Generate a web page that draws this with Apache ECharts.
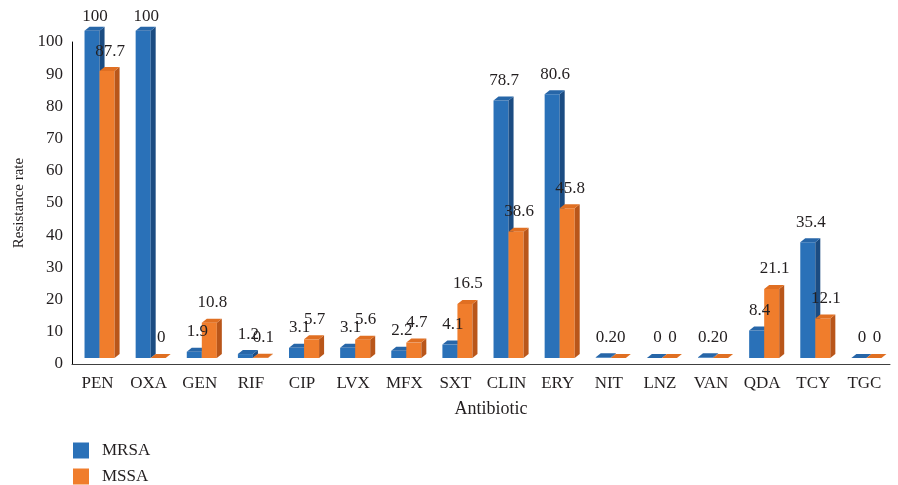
<!DOCTYPE html>
<html>
<head>
<meta charset="utf-8">
<script src="https://cdn.jsdelivr.net/npm/echarts@6/dist/echarts.min.js"></script>
<style>
  html, body { margin: 0; padding: 0; background: #fff; }
  #chart { width: 898px; height: 485px; }
</style>
</head>
<body>
<div id="chart"></div>
<script>
// Antibiotic resistance rates (%) for MRSA and MSSA isolates
const antibiotics = ['PEN', 'OXA', 'GEN', 'RIF', 'CIP', 'LVX', 'MFX', 'SXT', 'CLIN', 'ERY', 'NIT', 'LNZ', 'VAN', 'QDA', 'TCY', 'TGC'];
const mrsa = [100, 100, 1.9, 1.2, 3.1, 3.1, 2.2, 4.1, 78.7, 80.6, 0.2, 0, 0.2, 8.4, 35.4, 0];
const mssa = [87.7, 0, 10.8, 0.1, 5.7, 5.6, 4.7, 16.5, 38.6, 45.8, 0, 0, 0, 21.1, 12.1, 0];
const yTicks = [0, 10, 20, 30, 40, 50, 60, 70, 80, 90, 100];

const FONT = '"Liberation Serif", "DejaVu Serif", serif';
const TEXT = '#231f20';

const palette = [
  { front: '#2a71b8', top: '#2766a8', side: '#1b4c82' },
  { front: '#f07d2c', top: '#e06f22', side: '#b9561a' }
];

// geometry of the pseudo-3D columns
function barGeom(params, api, si) {
  const base = api.coord([api.value(0), 0]);
  const band = api.size([1, 0])[0];
  const bw = band * 0.294;
  const dx = 5, dy = 4;
  const floorY = base[1] - 6;
  const h = api.size([0, api.value(1)])[1] * 1.016;
  const x0 = base[0] - band * 0.255 + si * bw;
  return { x0, bw, dx, dy, floorY, h, topY: floorY - h };
}

function barRenderer(si) {
  return function (params, api) {
    const g = barGeom(params, api, si);
    const c = palette[si];
    const { x0, bw, dx, dy, floorY, topY } = g;
    return {
      type: 'group',
      children: [
        { type: 'rect', shape: { x: x0, y: topY, width: bw, height: floorY - topY },
          style: { fill: c.front } },
        { type: 'polygon', shape: { points: [[x0 + bw, topY], [x0 + bw + dx, topY - dy], [x0 + bw + dx, floorY - dy], [x0 + bw, floorY]] },
          style: { fill: c.side } },
        { type: 'polygon', shape: { points: [[x0, topY], [x0 + dx, topY - dy], [x0 + bw + dx, topY - dy], [x0 + bw, topY]] },
          style: { fill: c.top } }
      ]
    };
  };
}

function labelRenderer(si) {
  return function (params, api) {
    const g = barGeom(params, api, si);
    const v = api.value(1);
    return {
      type: 'text',
      style: {
        x: g.x0 + g.bw / 2 + 3,
        y: Math.max(g.topY - 20, 17),
        text: String(v),
        textAlign: 'center',
        textVerticalAlign: 'middle',
        font: '17px ' + FONT,
        fill: TEXT
      }
    };
  };
}

const toData = arr => arr.map((v, i) => [i, v]);

const chart = echarts.init(document.getElementById('chart'));
chart.setOption({
  animation: false,
  backgroundColor: '#ffffff',
  textStyle: { fontFamily: FONT, color: TEXT },
  grid: { left: 72, right: 8, top: 42, bottom: 121 },
  legend: {
    data: ['MRSA', 'MSSA'],
    orient: 'vertical',
    left: 73,
    top: 442,
    height: 80,
    padding: 0,
    itemWidth: 16,
    itemHeight: 16,
    itemGap: 9,
    icon: 'rect',
    textStyle: { fontFamily: FONT, fontSize: 17, color: TEXT, padding: [0, 0, 0, 8] }
  },
  xAxis: {
    type: 'category',
    data: antibiotics,
    name: 'Antibiotic',
    nameLocation: 'middle',
    nameGap: 36,
    nameTextStyle: { fontFamily: FONT, fontSize: 18, color: TEXT, padding: [0, 0, 0, 20] },
    axisLine: { lineStyle: { color: '#404040', width: 1 } },
    axisTick: { show: false },
    axisLabel: { interval: 0, fontFamily: FONT, fontSize: 17, color: TEXT, margin: 11 }
  },
  yAxis: {
    type: 'value',
    min: 0,
    max: 100,
    interval: 10,
    name: 'Resistance rate',
    nameLocation: 'middle',
    nameGap: 41,
    nameTextStyle: { fontFamily: FONT, fontSize: 15, color: TEXT },
    axisLine: { show: true, lineStyle: { color: '#000', width: 1 } },
    axisTick: { show: false },
    splitLine: { show: false },
    axisLabel: {
      fontFamily: FONT, fontSize: 17, color: TEXT, margin: 9,
      formatter: v => (yTicks.indexOf(v) >= 0 ? String(v) : '')
    }
  },
  series: [
    { name: 'MRSA', type: 'custom', renderItem: barRenderer(0), data: toData(mrsa),
      encode: { x: 0, y: 1 }, itemStyle: { color: palette[0].front }, clip: false, z: 2 },
    { name: 'MSSA', type: 'custom', renderItem: barRenderer(1), data: toData(mssa),
      encode: { x: 0, y: 1 }, itemStyle: { color: palette[1].front }, clip: false, z: 3 },
    { type: 'custom', renderItem: labelRenderer(0), data: toData(mrsa),
      encode: { x: 0, y: 1 }, clip: false, z: 5, silent: true },
    { type: 'custom', renderItem: labelRenderer(1), data: toData(mssa),
      encode: { x: 0, y: 1 }, clip: false, z: 5, silent: true }
  ]
});
</script>
</body>
</html>
